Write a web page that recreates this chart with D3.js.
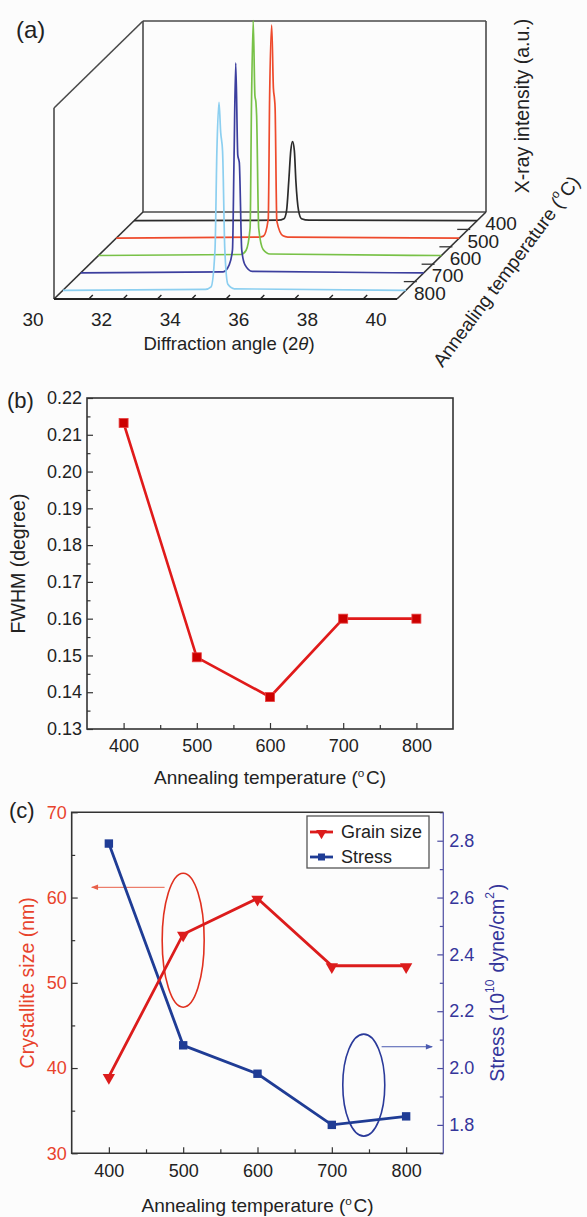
<!DOCTYPE html>
<html><head><meta charset="utf-8">
<script src="https://cdn.jsdelivr.net/npm/d3@7"></script>
<style>
body{margin:0;background:#fcfcfc;}
svg{display:block;font-family:"Liberation Sans",Arial,sans-serif;}
</style></head>
<body>
<script>
// ---------------- DATA ----------------
// (a) XRD patterns: [2theta (deg), intensity (a.u.)]
const xrdTemps = [400, 500, 600, 700, 800];
const xrd400 = [[30,0],[34.2,2],[34.37,8],[34.445,40],[34.51,160],[34.568,280],[34.62,316],[34.672,280],[34.716,160],[34.795,40],[34.88,8],[35.1,2],[40,0]];
const xrd500 = [[30,0],[34.15,4],[34.29,8],[34.43,76],[34.47,560],[34.53,852],[34.58,600],[34.61,560],[34.63,520],[34.68,68],[34.86,9],[35.0,4],[40,0]];
const xrd600 = [[30,0],[34.15,4],[34.3,20],[34.42,110],[34.46,600],[34.51,940],[34.56,640],[34.59,612],[34.61,560],[34.67,110],[34.8,24],[35.0,6],[40,0]];
const xrd700 = [[30,0],[34.15,4],[34.33,32],[34.425,92],[34.47,452],[34.52,840],[34.58,470],[34.61,452],[34.625,440],[34.695,92],[34.79,32],[35.0,6],[40,0]];
const xrd800 = [[30,0],[34.15,4],[34.32,14],[34.435,164],[34.49,560],[34.55,752],[34.60,632],[34.655,556],[34.72,164],[34.81,24],[35.0,6],[40,0]];
const xrdSeries = [xrd400, xrd500, xrd600, xrd700, xrd800];
const twoThetaTicks = [30, 32, 34, 36, 38, 40];
const twoThetaMinor = [31,32,33,34,35,36,37,38,39];
const depthMinor = [450, 550, 650, 750];

// (b) FWHM
const temps = [400, 500, 600, 700, 800];
const fwhm = [0.2132, 0.1495, 0.1387, 0.160, 0.160];
const fwhmTicks = [0.13,0.14,0.15,0.16,0.17,0.18,0.19,0.20,0.21,0.22];
const fwhmMinor = [0.135,0.145,0.155,0.165,0.175,0.185,0.195,0.205,0.215];
const tempTicks = [400, 500, 600, 700, 800];
const tempMinor = [450, 550, 650, 750];

// (c) grain size & stress
const grainSize = [39.0, 55.7, 59.9, 52.0, 52.0];
const stress = [2.79, 2.08, 1.98, 1.80, 1.83];
const sizeTicks = [30, 40, 50, 60, 70];
const sizeMinor = [35, 45, 55, 65];
const stressTicks = [1.8, 2.0, 2.2, 2.4, 2.6, 2.8];
const stressMinor = [1.7, 1.9, 2.1, 2.3, 2.5, 2.7, 2.9];

// ---------------- STYLE ----------------
const xrdColors = ["#2b2b2b", "#ee4a2c", "#78c147", "#3c3f9e", "#8ccff0"];
const RED = "#dc1c1c", BLUE = "#1f3c95";
const W = 587, H = 1217;
const svg = d3.select("body").append("svg").attr("width", W).attr("height", H);
svg.append("rect").attr("width", W).attr("height", H).attr("fill", "#fcfcfc");

function supText(sel, parts, sz){
  parts.forEach(p => {
    if (typeof p === "string") sel.append("tspan").text(p);
    else {
      sel.append("tspan").attr("font-size", sz*0.62).attr("dy", -sz*0.38).text(p.sup);
      sel.append("tspan").attr("font-size", sz).attr("dy", sz*0.38).text("\u200A");
    }
  });
}

// ---------------- PANEL (a) ----------------
(function(){
  const g = svg.append("g");
  const yFront = 299, boxH = 191, depX = 89, depY = 87;
  const xA = d3.scaleLinear().domain([30, 40]).range([54, 397]);
  const zA = d3.scaleLinear().domain([850, 350]).range([0, 1]);
  const iA = d3.scaleLinear().domain([0, 1000]).range([0, 250]);
  const P = (t, d, hpx) => [xA(t) + zA(d) * depX, yFront - zA(d) * depY - hpx];
  const frame = "#4a4a4a";
  const ln = (a, b, c, w) => g.append("line").attr("x1", a[0]).attr("y1", a[1]).attr("x2", b[0]).attr("y2", b[1])
      .attr("stroke", c || frame).attr("stroke-width", w || 1.6);
  // back wall
  ln(P(30,350,0), P(40,350,0)); ln(P(30,350,boxH), P(40,350,boxH));
  ln(P(30,350,0), P(30,350,boxH)); ln(P(40,350,0), P(40,350,boxH));
  // left wall
  ln(P(30,850,0), P(30,850,boxH)); ln(P(30,850,boxH), P(30,350,boxH));
  ln(P(30,850,0), P(30,350,0), "#333");
  // right floor edge
  ln(P(40,850,0), P(40,350,0), "#333");
  // depth minor ticks
  depthMinor.forEach(d => { const p = P(40, d, 0); ln([p[0] + 2, p[1]], [p[0] - 11, p[1]], "#333", 1.3); });
  // curves, back to front
  const line = d3.line().curve(d3.curveMonotoneX);
  xrdSeries.forEach((s, i) => {
    const d = xrdTemps[i];
    g.append("path").attr("d", line(s.map(p => P(p[0], d, iA(p[1])))))
      .attr("fill", "none").attr("stroke", xrdColors[i]).attr("stroke-width", 1.7);
  });
  // front edge
  ln(P(30,850,0), P(40,850,0), "#222", 2);
  twoThetaMinor.forEach(t => { const p = P(t, 850, 0), q = P(t, 800, 0); ln([p[0]+0.5, p[1]], [p[0] + (q[0]-p[0])*0.45+0.5, p[1] + (q[1]-p[1])*0.45], "#222", 1.4); });
  // tick labels
  g.selectAll(".tt").data(twoThetaTicks).enter().append("text")
    .attr("x", t => xA(t) - 21).attr("y", 326).attr("text-anchor", "middle")
    .attr("font-size", 19).attr("fill", "#222").text(t => t);
  g.selectAll(".dt").data(xrdTemps).enter().append("text")
    .attr("x", d => P(40, d, 0)[0] + 24).attr("y", d => P(40, d, 0)[1] + 3)
    .attr("dominant-baseline", "central").attr("text-anchor", "middle")
    .attr("font-size", 19).attr("fill", "#222").text(d => d);
  const t1 = g.append("text").attr("x", 229).attr("y", 350).attr("text-anchor", "middle")
    .attr("font-size", 18.5).attr("fill", "#222");
  t1.append("tspan").text("Diffraction angle (2");
  t1.append("tspan").attr("font-style", "italic").text("\u03B8");
  t1.append("tspan").text(")");
  g.append("text").attr("transform", "translate(522,106) rotate(-90)").attr("text-anchor", "middle")
    .attr("dominant-baseline", "central").attr("font-size", 19.5).attr("fill", "#222").text("X-ray intensity (a.u.)");
  const t2 = g.append("text").attr("transform", "translate(506,271) rotate(-53.4)").attr("text-anchor", "middle")
    .attr("dominant-baseline", "central").attr("font-size", 19).attr("fill", "#222");
  supText(t2, ["Annealing temperature (", {sup: "o"}, "C)"], 19);
  g.append("text").attr("x", 16).attr("y", 38).attr("font-size", 24).attr("fill", "#222").text("(a)");
})();

// ---------------- PANEL (b) ----------------
(function(){
  const L = 87, R = 453, T = 398, B = 729;
  const g = svg.append("g");
  const x = d3.scaleLinear().domain([350, 850]).range([L, R]);
  const y = d3.scaleLinear().domain([0.13, 0.22]).range([B, T]);
  const axStyle = sel => { sel.select(".domain").remove(); sel.selectAll("line").attr("stroke", "#333").attr("stroke-width", 1.2);
    sel.selectAll("text").attr("font-size", 18).attr("fill", "#222").attr("font-family", "Liberation Sans, Arial, sans-serif"); };
  g.append("g").attr("transform", `translate(0,${B})`).call(d3.axisBottom(x).tickValues(tempTicks).tickSizeInner(-6).tickPadding(10)).call(axStyle);
  g.append("g").attr("transform", `translate(0,${B})`).call(d3.axisBottom(x).tickValues(tempMinor).tickSizeInner(-4).tickFormat("")).call(axStyle);
  g.append("g").attr("transform", `translate(${L},0)`).call(d3.axisLeft(y).tickValues(fwhmTicks).tickSizeInner(-6).tickPadding(5).tickFormat(d3.format(".2f"))).call(axStyle);
  g.append("g").attr("transform", `translate(${L},0)`).call(d3.axisLeft(y).tickValues(fwhmMinor).tickSizeInner(-3.5).tickFormat("")).call(axStyle);
  g.append("rect").attr("x", L).attr("y", T).attr("width", R - L).attr("height", B - T).attr("fill", "none").attr("stroke", "#333").attr("stroke-width", 1.6);
  const pts = temps.map((t, i) => [x(t), y(fwhm[i])]);
  g.append("path").attr("d", d3.line()(pts)).attr("fill", "none").attr("stroke", "#e01a1a").attr("stroke-width", 2.6);
  g.selectAll(".m").data(pts).enter().append("rect").attr("x", p => p[0] - 4.5).attr("y", p => p[1] - 4.5)
    .attr("width", 9).attr("height", 9).attr("fill", "#cc0000").attr("stroke", "#e84040").attr("stroke-width", 0.8);
  const xt = g.append("text").attr("x", (L + R) / 2).attr("y", 784).attr("text-anchor", "middle").attr("font-size", 19).attr("fill", "#222");
  supText(xt, ["Annealing temperature (", {sup: "o"}, "C)"], 19);
  g.append("text").attr("transform", `translate(18,${(T + B) / 2}) rotate(-90)`).attr("text-anchor", "middle")
    .attr("dominant-baseline", "central").attr("font-size", 19.5).attr("fill", "#222").text("FWHM (degree)");
  g.append("text").attr("x", 7).attr("y", 408).attr("font-size", 22).attr("fill", "#222").text("(b)");
})();

// ---------------- PANEL (c) ----------------
(function(){
  const L = 71.7, R = 443.3, T = 812.3, B = 1153.3;
  const g = svg.append("g");
  const x = d3.scaleLinear().domain([350, 850]).range([L, R]);
  const yL = d3.scaleLinear().domain([30, 70]).range([B, T]);
  const yR = d3.scaleLinear().domain([1.7, 2.9]).range([B, T]);
  const LRED = "#e8432c", LBLUE = "#35359a";
  const axStyle = (c, tc) => sel => { sel.select(".domain").remove(); sel.selectAll("line").attr("stroke", c).attr("stroke-width", 1.2);
    sel.selectAll("text").attr("font-size", 18).attr("fill", tc).attr("font-family", "Liberation Sans, Arial, sans-serif"); };
  g.append("g").attr("transform", `translate(0,${B})`).call(d3.axisBottom(x).tickValues(tempTicks).tickSizeInner(-6).tickPadding(11)).call(axStyle("#333", "#222"));
  g.append("g").attr("transform", `translate(0,${B})`).call(d3.axisBottom(x).tickValues(tempMinor).tickSizeInner(-4).tickFormat("")).call(axStyle("#333", "#222"));
  g.append("g").attr("transform", `translate(${L},0)`).call(d3.axisLeft(yL).tickValues(sizeTicks).tickSizeInner(-6).tickPadding(5)).call(axStyle("#333", LRED));
  g.append("g").attr("transform", `translate(${L},0)`).call(d3.axisLeft(yL).tickValues(sizeMinor).tickSizeInner(-3.5).tickFormat("")).call(axStyle("#333", LRED));
  g.append("g").attr("transform", `translate(${R},0)`).call(d3.axisRight(yR).tickValues(stressTicks).tickSizeInner(-6).tickPadding(6).tickFormat(d3.format(".1f"))).call(axStyle("#4a4aa0", LBLUE));
  g.append("g").attr("transform", `translate(${R},0)`).call(d3.axisRight(yR).tickValues(stressMinor).tickSizeInner(-3.5).tickFormat("")).call(axStyle("#4a4aa0", LBLUE));
  g.append("path").attr("d", `M${R},${T}H${L}V${B}H${R}`).attr("fill", "none").attr("stroke", "#333").attr("stroke-width", 1.6);
  g.append("line").attr("x1", R).attr("x2", R).attr("y1", T).attr("y2", B).attr("stroke", "#5a5aa8").attr("stroke-width", 1.3);

  // annotations
  g.append("ellipse").attr("cx", x(500)).attr("cy", yL(55)).attr("rx", 21).attr("ry", 67).attr("fill", "none").attr("stroke", "#e0301f").attr("stroke-width", 1.6);
  g.append("ellipse").attr("cx", x(743)).attr("cy", yR(1.94)).attr("rx", 21).attr("ry", 51).attr("fill", "none").attr("stroke", "#2a3a9a").attr("stroke-width", 1.6);
  const defs = svg.append("defs");
  [["ar", "#e8604a"], ["ab", "#4a5ab0"]].forEach(([id, c]) => {
    defs.append("marker").attr("id", id).attr("viewBox", "0 0 10 10").attr("refX", 9).attr("refY", 5)
      .attr("markerWidth", 9).attr("markerHeight", 7).attr("markerUnits", "userSpaceOnUse").attr("orient", "auto")
      .append("path").attr("d", "M0,1 L10,5 L0,9 z").attr("fill", c);
  });
  g.append("line").attr("x1", x(475)).attr("x2", x(377)).attr("y1", yL(61.2)).attr("y2", yL(61.2)).attr("stroke", "#e8604a").attr("stroke-width", 1).attr("marker-end", "url(#ar)");
  g.append("line").attr("x1", x(767)).attr("x2", x(835)).attr("y1", yR(2.075)).attr("y2", yR(2.075)).attr("stroke", "#4a5ab0").attr("stroke-width", 1).attr("marker-end", "url(#ab)");

  // series
  const gp = temps.map((t, i) => [x(t), yL(grainSize[i])]);
  const sp = temps.map((t, i) => [x(t), yR(stress[i])]);
  g.append("path").attr("d", d3.line()(sp)).attr("fill", "none").attr("stroke", BLUE).attr("stroke-width", 2.8);
  g.append("path").attr("d", d3.line()(gp)).attr("fill", "none").attr("stroke", RED).attr("stroke-width", 2.8);
  const tri = d3.symbol().type(d3.symbolTriangle).size(66);
  g.selectAll(".tr").data(gp).enter().append("path").attr("d", tri)
    .attr("transform", p => `translate(${p[0]},${p[1] + 1}) rotate(180)`).attr("fill", RED);
  g.selectAll(".sq").data(sp).enter().append("rect").attr("x", p => p[0] - 4.2).attr("y", p => p[1] - 4.2)
    .attr("width", 8.4).attr("height", 8.4).attr("fill", BLUE);

  // legend
  const lg = g.append("g");
  lg.append("rect").attr("x", 307).attr("y", 816).attr("width", 122).attr("height", 52).attr("fill", "#fff").attr("stroke", "#555").attr("stroke-width", 1.3);
  lg.append("line").attr("x1", 310).attr("x2", 333).attr("y1", 832).attr("y2", 832).attr("stroke", RED).attr("stroke-width", 2.8);
  lg.append("path").attr("d", d3.symbol().type(d3.symbolTriangle).size(50)).attr("transform", "translate(321.5,833) rotate(180)").attr("fill", RED);
  lg.append("line").attr("x1", 310).attr("x2", 333).attr("y1", 857).attr("y2", 857).attr("stroke", BLUE).attr("stroke-width", 2.8);
  lg.append("rect").attr("x", 318).attr("y", 853.5).attr("width", 7).attr("height", 7).attr("fill", BLUE);
  lg.append("text").attr("x", 341).attr("y", 832).attr("dominant-baseline", "central").attr("font-size", 18).attr("fill", "#222").text("Grain size");
  lg.append("text").attr("x", 341).attr("y", 857).attr("dominant-baseline", "central").attr("font-size", 18).attr("fill", "#222").text("Stress");

  // titles
  const xt = g.append("text").attr("x", (L + R) / 2).attr("y", 1212).attr("text-anchor", "middle").attr("font-size", 19).attr("fill", "#222");
  supText(xt, ["Annealing temperature (", {sup: "o"}, "C)"], 19);
  g.append("text").attr("transform", `translate(27,${(T + B) / 2}) rotate(-90)`).attr("text-anchor", "middle")
    .attr("dominant-baseline", "central").attr("font-size", 19.5).attr("fill", LRED).text("Crystallite size (nm)");
  const rt = g.append("text").attr("transform", `translate(497,${(T + B) / 2}) rotate(-90)`).attr("text-anchor", "middle")
    .attr("dominant-baseline", "central").attr("font-size", 19.5).attr("fill", LBLUE);
  supText(rt, ["Stress (10", {sup: "10"}, " dyne/cm", {sup: "2"}, ")"], 19.5);
  g.append("text").attr("x", 9).attr("y", 818).attr("font-size", 22).attr("fill", "#222").text("(c)");
})();
</script>
</body></html>
